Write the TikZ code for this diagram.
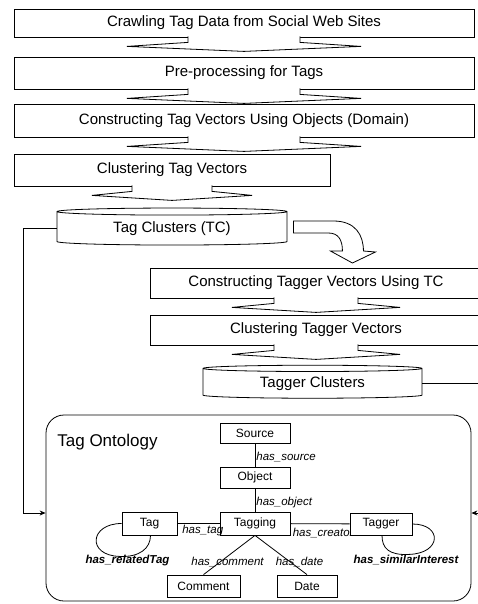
\documentclass[tikz,border=0pt]{standalone}
\usepackage{fontspec}
\setmainfont{Liberation Sans}
\usetikzlibrary{calc,arrows.meta,shapes.geometric}

\tikzset{
    procbox/.style={draw, fill=white, inner sep=0pt, font=\fontsize{15}{18}\selectfont},
    clusterdb/.style={draw, fill=white, cylinder, shape border rotate=90, aspect=0.06,
        inner sep=0pt, font=\fontsize{15}{18}\selectfont},
    blockarrow/.style={draw, fill=white},
    ontobox/.style={draw, rounded corners=18pt},
    classbox/.style={draw, fill=white, inner sep=0pt, font=\fontsize{12}{14}\selectfont},
    rel/.style={inner sep=1pt, font=\fontsize{11.5}{13}\selectfont\itshape},
    selfrel/.style={inner sep=1pt, font=\fontsize{11.5}{13}\selectfont\bfseries\itshape},
    conn/.style={-{Stealth[length=6pt, width=5pt]}}
}

\begin{document}
\begin{tikzpicture}[x=1pt, y=-1pt, line width=0.8pt]
    \useasboundingbox (0,0) rectangle (478,604);

    \node[procbox, minimum width=460, minimum height=28] (crawl) at (244, 23) {Crawling Tag Data from Social Web Sites};
    \node[procbox, minimum width=460, minimum height=32] (prep) at (244, 73) {Pre-processing for Tags};
    \node[procbox, minimum width=460, minimum height=33] (tagvec) at (244, 120.5) {Constructing Tag Vectors Using Objects (Domain)};
    \node[procbox, minimum width=316, minimum height=32] (tagclus) at (172, 170) {Clustering Tag Vectors};
    \node[clusterdb, minimum width=230, minimum height=37] (tc) at (172, 228.5) {Tag Clusters (TC)};
    \node[procbox, minimum width=332, minimum height=30] (taggervec) at (316, 283) {Constructing Tagger Vectors Using TC};
    \node[procbox, minimum width=332, minimum height=30] (taggerclus) at (316, 330) {Clustering Tagger Vectors};
    \node[clusterdb, minimum width=219, minimum height=33] (tgc) at (312.5, 383.5) {Tagger Clusters};

    \foreach \a/\s/\w in {crawl/56/117, prep/56/117, tagvec/56/117, tagclus/40/80, taggervec/42/84, taggerclus/42/84}
        \draw[blockarrow] ($(\a.south)+(-\s,-1)$) -- ++(0,6) -- ($(\a.south)+(-\w,9)$) -- ($(\a.south)+(0,14)$)
            -- ($(\a.south)+(\w,9)$) -- ($(\a.south)+(\s,5)$) -- ++(0,-6);

    \draw[blockarrow] ($(tc.east)+(6,-7.5)$) -- ($(tc.east)+(46,-7.5)$)
        .. controls ($(tc.east)+(68,-7.5)$) and ($(tc.east)+(76,6.5)$) .. ($(tc.east)+(76,22.5)$)
        -- ($(tc.east)+(88,23.5)$) -- ($(tc.east)+(65,34.5)$) -- ($(tc.east)+(43,22.5)$) -- ($(tc.east)+(55,22.5)$)
        .. controls ($(tc.east)+(55,11.5)$) and ($(tc.east)+(51,4.5)$) .. ($(tc.east)+(41,4.5)$)
        -- ($(tc.east)+(6,4.5)$) -- cycle;

    \node[ontobox, minimum width=425, minimum height=186] (onto) at (258.5, 508) {};
    \node[anchor=base west, inner sep=0pt, font=\fontsize{17}{20}\selectfont] (ontotitle) at (57, 446.5) {Tag Ontology};

    \node[classbox, minimum width=70, minimum height=20] (source) at (255, 433) {Source};
    \node[classbox, minimum width=70, minimum height=21] (object) at (255, 477.5) {Object};
    \node[classbox, minimum width=70, minimum height=23] (tagging) at (255, 523.5) {Tagging};
    \node[classbox, minimum width=55, minimum height=23] (tag) at (149.5, 523.5) {Tag};
    \node[rel, anchor=west] (lcreator) at ($(tagging.east)+(1,9.5)$) {has\_creator};
    \node[classbox, minimum width=62, minimum height=22] (tagger) at (381, 524) {Tagger};
    \node[classbox, minimum width=73, minimum height=22] (comment) at (203.5, 586) {Comment};
    \node[classbox, minimum width=60, minimum height=22] (date) at (307, 586) {Date};

    \draw
    (source) edge node[rel, right, pos=0.6] {has\_source} (object)
    (object) edge node[rel, right, pos=0.6] {has\_object} (tagging)
    (tag) edge node[rel, below, pos=0.6] {has\_tag} (tagging)
    (tagging) edge (tagger)
    (tagging.south) edge (comment.north)
    (tagging.south) edge (date.north);

    \node[rel] (lcomment) at ($(comment.north)+(24,-13)$) {has\_comment};
    \node[rel] (ldate) at ($(date.north)+(-7.5,-13)$) {has\_date};

    \draw (tag.west) .. controls +(-32,0) and +(-33,-1) .. ($(tag.south)+(-30,21)$)
        .. controls +(20,1) and +(0,13) .. ($(tag.south)+(1,0)$);
    \draw ($(tagger.south)+(1,0)$) .. controls +(0,13) and +(-20,1) .. ($(tagger.south)+(28,19)$)
        .. controls +(33,-1) and +(30,0) .. (tagger.east);
    \node[selfrel] (lrelated) at ($(tag.south)+(-22,25)$) {has\_relatedTag};
    \node[selfrel] (lsimilar) at ($(tagger.south)+(25,25)$) {has\_similarInterest};

    \coordinate (lcorner) at (23, 513);
    \coordinate (rcorner) at (482, 513);
    \draw[conn] (tc.west) -| (lcorner) -- (lcorner -| onto.west);
    \draw[conn] (tgc.east) -| (rcorner) -- (rcorner -| onto.east);
\end{tikzpicture}
\end{document}
